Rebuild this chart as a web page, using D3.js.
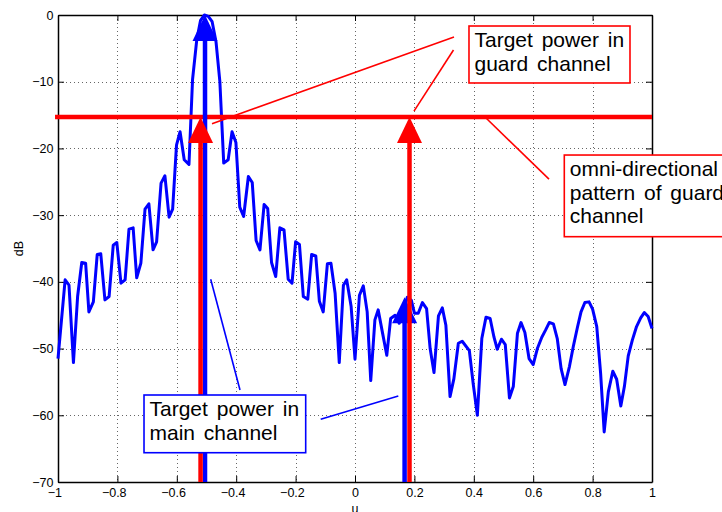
<!DOCTYPE html>
<html>
<head>
<meta charset="utf-8">
<script src="https://cdn.jsdelivr.net/npm/d3@7"></script>
<style>
  body { margin: 0; background: #fff; }
  svg { display: block; font-family: "Liberation Sans", Arial, Helvetica, sans-serif; }
</style>
</head>
<body>
<svg id="chart" width="722" height="512"></svg>
<script>
// beam pattern of the main channel (u, dB)
const patternU = [
  -1.000, -0.976, -0.963, -0.948, -0.934, -0.920, -0.907, -0.896, -0.881, -0.868,
  -0.856, -0.842, -0.828, -0.814, -0.802, -0.788, -0.774, -0.761, -0.747, -0.735,
  -0.721, -0.707, -0.694, -0.680, -0.668, -0.653, -0.640, -0.626, -0.614, -0.601,
  -0.589, -0.575, -0.559, -0.547, -0.533, -0.520, -0.507, -0.494, -0.481, -0.468,
  -0.455, -0.442, -0.427, -0.414, -0.401, -0.388, -0.375, -0.359, -0.346, -0.333,
  -0.320, -0.306, -0.294, -0.281, -0.267, -0.253, -0.239, -0.225, -0.212, -0.200,
  -0.187, -0.174, -0.159, -0.146, -0.132, -0.120, -0.107, -0.093, -0.081, -0.067,
  -0.053, -0.039, -0.028, -0.013, 0.000, 0.015, 0.028, 0.041, 0.053, 0.067,
  0.078, 0.092, 0.107, 0.120, 0.135, 0.149, 0.162, 0.176, 0.190, 0.200,
  0.213, 0.227, 0.241, 0.253, 0.266, 0.281, 0.294, 0.306, 0.320, 0.333,
  0.348, 0.361, 0.385, 0.398, 0.412, 0.427, 0.441, 0.455, 0.468, 0.479,
  0.493, 0.506, 0.520, 0.533, 0.547, 0.559, 0.572, 0.586, 0.600, 0.614,
  0.629, 0.642, 0.654, 0.668, 0.681, 0.694, 0.707, 0.722, 0.735, 0.749,
  0.761, 0.774, 0.788, 0.800, 0.814, 0.827, 0.839, 0.853, 0.868, 0.881,
  0.895, 0.907, 0.920, 0.934, 0.948, 0.962, 0.974, 0.987, 1.000
];
const patternDB = [
  -51.5, -39.7, -40.5, -52.1, -42.2, -37.1, -37.2, -44.5, -43.0, -35.9,
  -35.8, -42.7, -42.2, -34.5, -34.1, -40.2, -39.7, -32.1, -31.9, -39.4,
  -37.2, -29.1, -28.3, -35.2, -34.0, -25.2, -24.1, -30.3, -29.1, -19.5,
  -17.5, -21.7, -22.4, -9.7, -3.8, -0.8, 0.0, -0.2, -1.0, -4.0,
  -10.0, -22.2, -21.7, -17.5, -19.1, -28.8, -30.2, -24.2, -25.1, -33.8,
  -35.2, -28.4, -29.0, -37.1, -39.2, -31.9, -32.2, -39.6, -40.2, -34.0,
  -34.4, -42.2, -42.6, -35.9, -36.1, -42.9, -44.5, -37.3, -37.2, -41.7,
  -52.1, -40.5, -39.7, -43.7, -51.6, -42.0, -40.6, -44.5, -54.8, -45.7,
  -44.2, -47.5, -51.0, -45.5, -45.0, -46.2, -44.5, -42.3, -42.8, -44.7,
  -44.7, -43.1, -44.0, -50.0, -53.6, -45.1, -43.9, -46.5, -57.2, -54.5,
  -49.2, -48.9, -50.3, -55.3, -60.0, -48.5, -45.3, -45.5, -48.3, -50.1,
  -48.6, -49.4, -57.4, -55.7, -47.7, -46.1, -47.6, -51.5, -52.4, -50.0,
  -48.3, -47.2, -46.1, -46.3, -48.5, -53.0, -55.4, -52.7, -49.7, -46.8,
  -44.5, -43.1, -43.0, -44.1, -46.7, -53.7, -62.5, -56.5, -53.4, -54.6,
  -58.6, -55.7, -51.1, -48.7, -46.7, -45.4, -44.6, -45.2, -47.0
];

// omni-directional guard channel level (dB)
const guardLevel = -15.3;

// target power arrows: direction u, power at the tip, which channel
const targetU = [-0.505, 0.167, -0.520, 0.1835];
const targetDB = [0, -42.3, guardLevel, guardLevel];
const targetChannel = ["main", "main", "guard", "guard"];

const xTicks = [-1, -0.8, -0.6, -0.4, -0.2, 0, 0.2, 0.4, 0.6, 0.8, 1];
const yTicks = [0, -10, -20, -30, -40, -50, -60, -70];

// params
const width = 722;
const height = 512;
const margin = { top: 15, right: 70, bottom: 30, left: 58 };
const channelColor = { main: "#0000ff", guard: "#ff0000" };
const headW = 25;
const headL = 26;
const fontSize = 12.5;

const svg = d3.select("#chart");
svg.append("rect").attr("width", width).attr("height", height).attr("fill", "#fff");

const x = d3.scaleLinear().domain([-1, 1]).range([margin.left, width - margin.right]);
const y = d3.scaleLinear().domain([-70, 0]).range([height - margin.bottom, margin.top]);

// grid (dotted, skip the frame edges)
const grid = svg.append("g").attr("stroke", "#666").attr("stroke-width", 1).attr("stroke-dasharray", "1,3");
grid.selectAll("line.gx")
  .data(xTicks.slice(1, -1))
  .join("line")
  .attr("x1", (d) => Math.round(x(d)) + 0.5)
  .attr("x2", (d) => Math.round(x(d)) + 0.5)
  .attr("y1", y(0))
  .attr("y2", y(-70));
grid.selectAll("line.gy")
  .data(yTicks.slice(1, -1))
  .join("line")
  .attr("y1", (d) => Math.round(y(d)) + 0.5)
  .attr("y2", (d) => Math.round(y(d)) + 0.5)
  .attr("x1", x(-1))
  .attr("x2", x(1));

// axes, ticks inward, box on
const fmt = d3.format("~g");
const axisB = svg.append("g")
  .attr("transform", `translate(0,${y(-70)})`)
  .call(d3.axisBottom(x).tickValues(xTicks).tickFormat(fmt).tickSizeInner(-6).tickSizeOuter(0).tickPadding(6));
const axisL = svg.append("g")
  .attr("transform", `translate(${x(-1)},0)`)
  .call(d3.axisLeft(y).tickValues(yTicks).tickFormat(fmt).tickSizeInner(-6).tickSizeOuter(0).tickPadding(4.5));
const axisT = svg.append("g")
  .attr("transform", `translate(0,${y(0)})`)
  .call(d3.axisTop(x).tickValues(xTicks).tickFormat("").tickSizeInner(-6).tickSizeOuter(0));
const axisR = svg.append("g")
  .attr("transform", `translate(${x(1)},0)`)
  .call(d3.axisRight(y).tickValues(yTicks).tickFormat("").tickSizeInner(-6).tickSizeOuter(0));

[axisB, axisL, axisT, axisR].forEach((g) => {
  g.attr("font-family", null).attr("font-size", fontSize);
  g.select(".domain").attr("stroke", "#000").attr("stroke-width", 1.5);
  g.selectAll(".tick line").attr("stroke", "#000");
  g.selectAll(".tick text").attr("fill", "#000");
});

// matlab hangs the minus sign left of the centred number
const probe = svg.append("text").attr("font-size", fontSize).text("\u2212");
const minusW = probe.node().getComputedTextLength();
probe.remove();
axisB.selectAll(".tick text").attr("dx", (d) => (d < 0 ? -minusW / 2 : 0));

// axis labels
svg.append("text")
  .attr("transform", `translate(23,${(y(0) + y(-70)) / 2}) rotate(-90)`)
  .attr("text-anchor", "middle")
  .attr("font-size", fontSize)
  .text("dB");
svg.append("text")
  .attr("x", x(0))
  .attr("y", 513)
  .attr("text-anchor", "middle")
  .attr("font-size", fontSize)
  .text("u");

// PATTERN
const line = d3.line().x((d, i) => x(patternU[i])).y((d) => y(d));
svg.append("path")
  .attr("d", line(patternDB))
  .attr("fill", "none")
  .attr("stroke", channelColor.main)
  .attr("stroke-width", 3)
  .attr("stroke-linejoin", "round");

// GUARD LEVEL
svg.append("line")
  .attr("x1", x(-1.01))
  .attr("x2", x(1))
  .attr("y1", y(guardLevel))
  .attr("y2", y(guardLevel))
  .attr("stroke", channelColor.guard)
  .attr("stroke-width", 4.5);

// ARROWS (main channel first, guard on top)
const arrowIdx = d3.range(targetU.length).sort((a, b) => (targetChannel[a] === "main" ? 0 : 1) - (targetChannel[b] === "main" ? 0 : 1));
const arrows = svg.append("g").selectAll("g").data(arrowIdx).join("g");
arrows.append("line")
  .attr("x1", (i) => x(targetU[i]))
  .attr("x2", (i) => x(targetU[i]))
  .attr("y1", y(-70))
  .attr("y2", (i) => y(targetDB[i]) + headL - 1)
  .attr("stroke", (i) => channelColor[targetChannel[i]])
  .attr("stroke-width", 4.5);
arrows.append("path")
  .attr("d", (i) => {
    const cx = x(targetU[i]);
    const ty = y(targetDB[i]);
    return `M${cx},${ty}L${cx - headW / 2},${ty + headL}L${cx + headW / 2},${ty + headL}Z`;
  })
  .attr("fill", (i) => channelColor[targetChannel[i]]);

// ANNOTATIONS (data units)
const pointers = [
  { from: [-0.4859, -39.6], to: [-0.3872, -56.2], channel: "main" },
  { from: [-0.1155, -60.6], to: [0.1458, -57.1], channel: "main" },
  { from: [0.3333, -3.3], to: [-0.4815, -16.3], channel: "guard" },
  { from: [0.3316, -5.25], to: [0.1987, -14.4], channel: "guard" },
  { from: [0.4411, -15.44], to: [0.6532, -24.6], channel: "guard" },
];
svg.append("g").selectAll("line").data(pointers).join("line")
  .attr("x1", (d) => x(d.from[0]))
  .attr("y1", (d) => y(d.from[1]))
  .attr("x2", (d) => x(d.to[0]))
  .attr("y2", (d) => y(d.to[1]))
  .attr("stroke", (d) => channelColor[d.channel])
  .attr("stroke-width", 1.6);

const boxes = [
  { u0: 0.3838, u1: 0.9259, top: -1.65, bottom: -10.19, channel: "guard", lines: ["Target power in", "guard channel"] },
  { u0: -0.7104, u1: -0.166, top: -56.96, bottom: -65.61, channel: "main", lines: ["Target power in", "main channel"] },
  { u0: 0.7047, u1: 1.4, top: -20.99, bottom: -33.23, channel: "guard", lines: ["omni-directional", "pattern of guard", "channel"] },
];
const box = svg.append("g").selectAll("g").data(boxes).join("g");
box.append("rect")
  .attr("x", (d) => x(d.u0))
  .attr("y", (d) => y(d.top))
  .attr("width", (d) => x(d.u1) - x(d.u0))
  .attr("height", (d) => y(d.bottom) - y(d.top))
  .attr("fill", "#fff")
  .attr("stroke", (d) => channelColor[d.channel])
  .attr("stroke-width", 1.6);
box.each(function (d) {
  const t = d3.select(this).append("text")
    .attr("font-size", 21)
    .attr("word-spacing", 3)
    .attr("fill", "#000");
  d.lines.forEach((s, k) => {
    t.append("tspan")
      .attr("x", x(d.u0) + 5.5)
      .attr("y", y(d.top) + 20.7 + k * 23.8)
      .text(s);
  });
});
</script>
</body>
</html>
